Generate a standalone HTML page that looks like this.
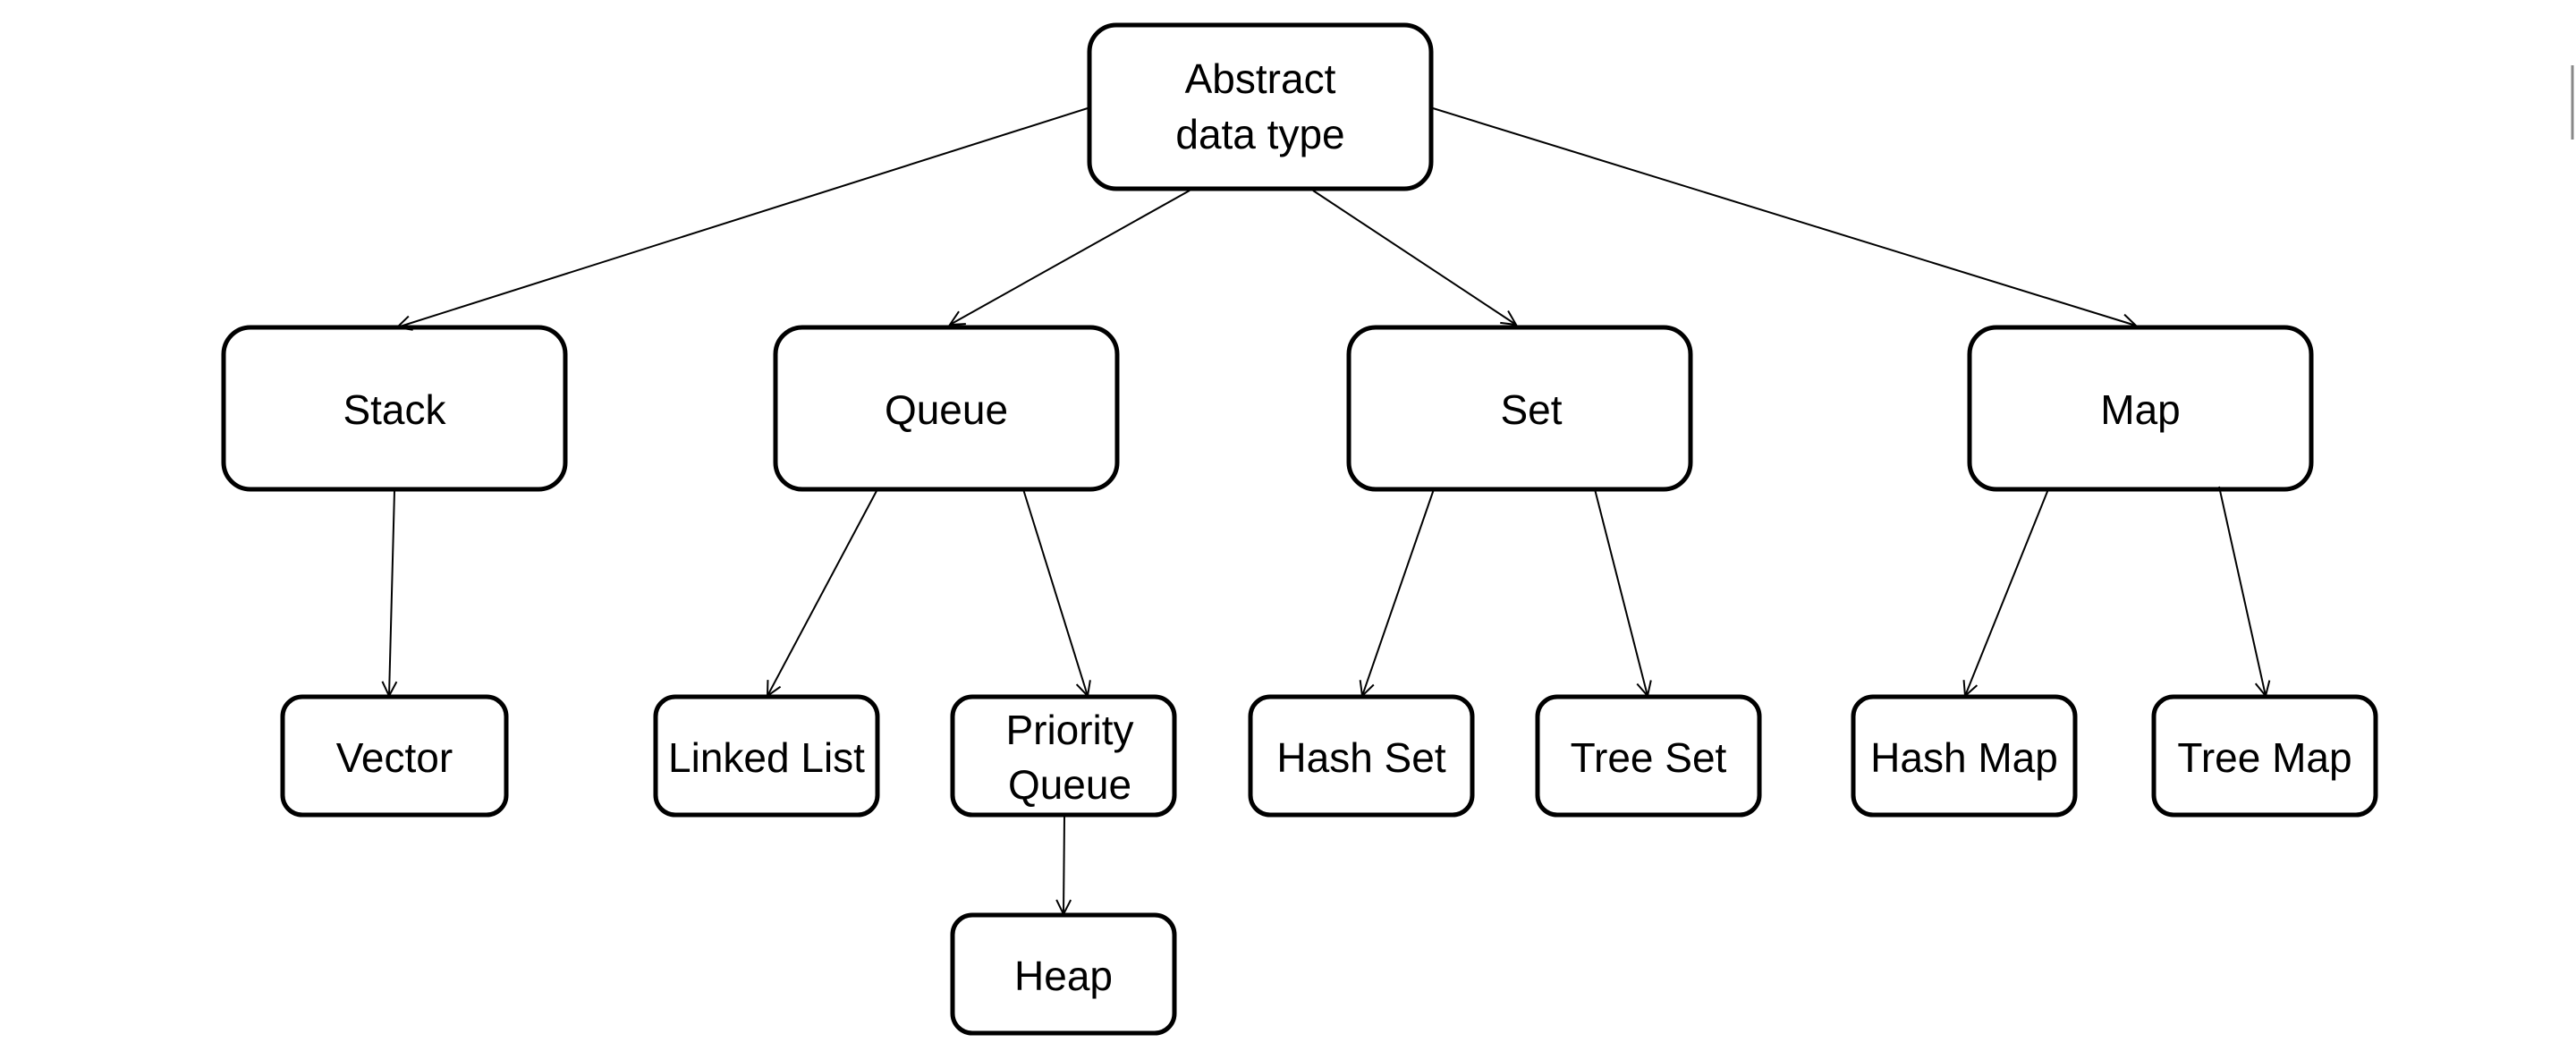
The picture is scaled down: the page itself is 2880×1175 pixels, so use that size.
<!DOCTYPE html>
<html><head><meta charset="utf-8"><style>
html,body{margin:0;padding:0;background:#fff;}
svg{display:block}
text{font-family:"Liberation Sans",sans-serif;font-size:46px;fill:#000;text-anchor:middle;}
</style></head><body>
<svg width="2880" height="1175" viewBox="0 0 2880 1175" xmlns="http://www.w3.org/2000/svg">
<defs>
<marker id="a" markerWidth="20" markerHeight="20" refX="18" refY="10" orient="auto" markerUnits="userSpaceOnUse">
<path d="M2,2 L18,10 L2,18" fill="none" stroke="#000" stroke-width="2"/>
</marker>
</defs>
<g fill="#fff" stroke="#000" stroke-width="5">
<rect x="1218" y="28" width="382" height="183" rx="30"/>
<rect x="250" y="366" width="382" height="181" rx="30"/>
<rect x="867" y="366" width="382" height="181" rx="30"/>
<rect x="1508" y="366" width="382" height="181" rx="30"/>
<rect x="2202" y="366" width="382" height="181" rx="30"/>
<rect x="316" y="779" width="250" height="132" rx="22"/>
<rect x="733" y="779" width="248" height="132" rx="22"/>
<rect x="1065" y="779" width="248" height="132" rx="22"/>
<rect x="1398" y="779" width="248" height="132" rx="22"/>
<rect x="1719" y="779" width="248" height="132" rx="22"/>
<rect x="2072" y="779" width="248" height="132" rx="22"/>
<rect x="2408" y="779" width="248" height="132" rx="22"/>
<rect x="1065" y="1023" width="248" height="132" rx="22"/>
</g>
<g stroke="#000" stroke-width="2" fill="none" marker-end="url(#a)">
<line x1="1216" y1="121" x2="444" y2="366"/>
<line x1="1330" y1="213" x2="1062" y2="363"/>
<line x1="1468" y1="213" x2="1695" y2="363"/>
<line x1="1602" y1="121" x2="2388" y2="364"/>
<line x1="441" y1="549" x2="435" y2="778"/>
<line x1="981" y1="547" x2="858" y2="778"/>
<line x1="1144" y1="547" x2="1216" y2="778"/>
<line x1="1603" y1="547" x2="1523" y2="778"/>
<line x1="1783" y1="547" x2="1842" y2="778"/>
<line x1="2290" y1="547" x2="2197" y2="778"/>
<line x1="2481" y1="544" x2="2533" y2="778"/>
<line x1="1190" y1="913" x2="1189" y2="1022"/>
</g>
<line x1="2876" y1="73" x2="2876" y2="156" stroke="#888" stroke-width="3"/>
<text x="1409" y="104">Abstract</text>
<text x="1409" y="166">data type</text>
<text x="441" y="474">Stack</text>
<text x="1058" y="474">Queue</text>
<text x="1712" y="474">Set</text>
<text x="2393" y="474">Map</text>
<text x="441" y="863">Vector</text>
<text x="857" y="863">Linked List</text>
<text x="1196" y="832">Priority</text>
<text x="1196" y="893">Queue</text>
<text x="1522" y="863">Hash Set</text>
<text x="1843" y="863">Tree Set</text>
<text x="2196" y="863">Hash Map</text>
<text x="2532" y="863">Tree Map</text>
<text x="1189" y="1107">Heap</text>
</svg>
</body></html>
